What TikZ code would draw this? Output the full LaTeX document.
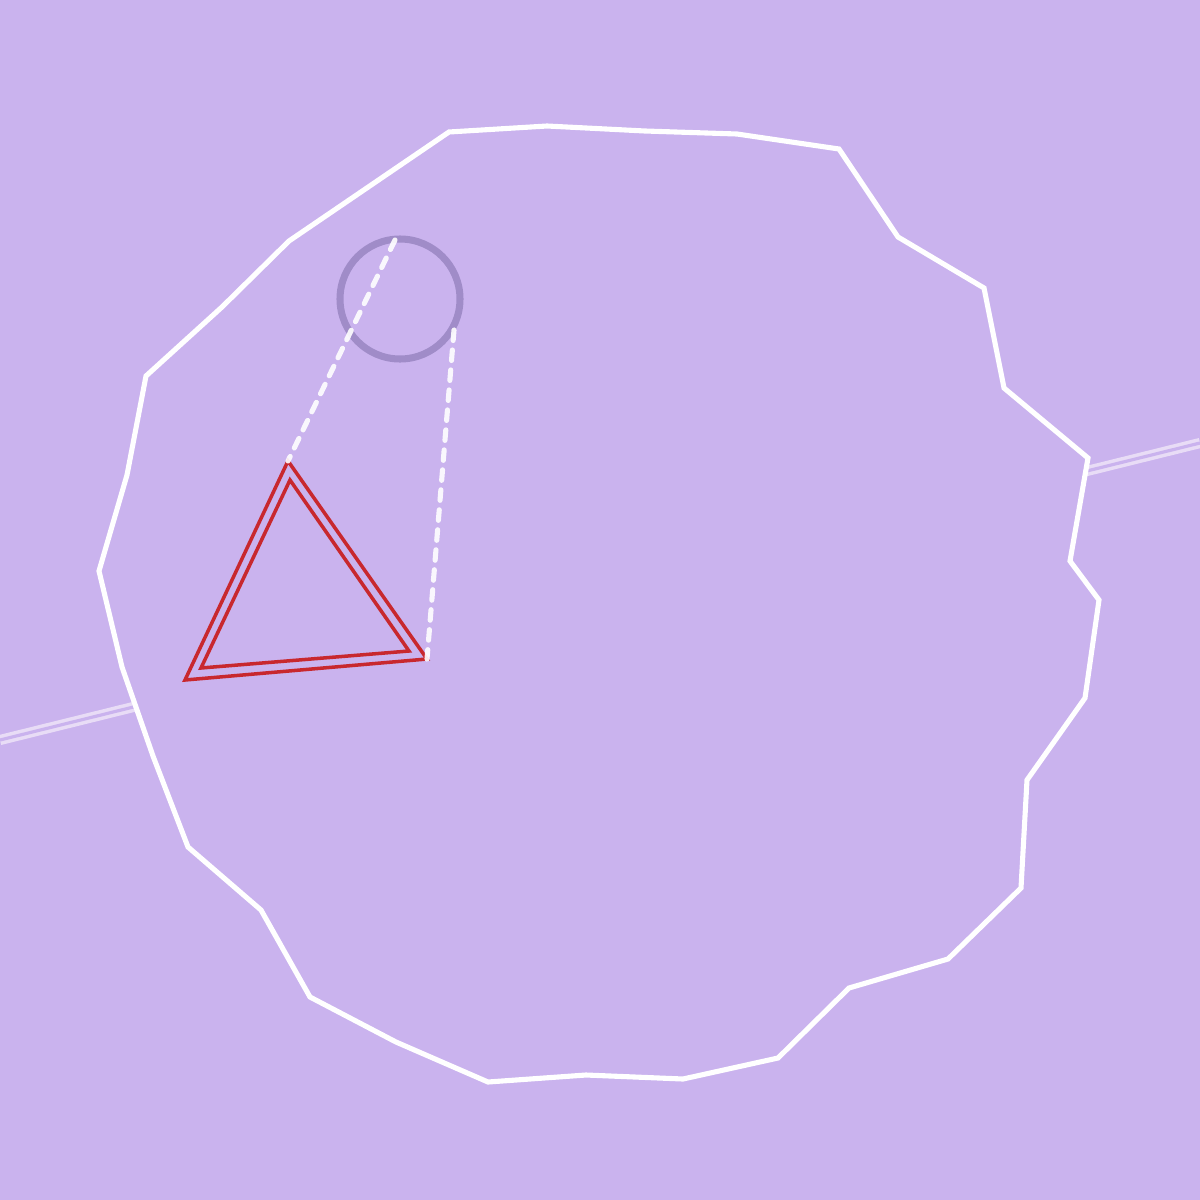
\documentclass[tikz,border=0pt]{standalone}
\begin{document}
\begin{tikzpicture}[x=0.01cm,y=-0.01cm,
  outline/.style={draw=white,line width=1.45pt,line join=miter},
  ring/.style={draw=ringc,line width=2pt},
  tri/.style={draw=tric,line width=1pt,line join=miter},
  guide/.style={draw=white,opacity=0.9,line width=1.45pt,dash pattern=on 3pt off 2.7pt,line cap=round},
  rail/.style={draw=railc,line width=1pt,double=bgc,double distance=0.9pt}]
\definecolor{bgc}{HTML}{CAB3EE}
\definecolor{ringc}{HTML}{A08CC8}
\definecolor{tric}{HTML}{C8282E}
\definecolor{railc}{HTML}{E8DCF6}
\fill[bgc] (0,0) rectangle (1200,1200);
\useasboundingbox (0,0) rectangle (1200,1200);
\coordinate (r1) at (0,740);
\coordinate (r2) at (1200,443);
\draw[rail] (r1) -- (r2);
\draw[outline,fill=bgc] (449,132) -- (547,126) -- (645,131) -- (737,134) -- (839,149) -- (898,237) -- (984,288) -- (1004,388) -- (1088,458) -- (1070,561) -- (1099,600) -- (1085,698) -- (1027,780) -- (1021,888) -- (948,959) -- (849,988) -- (778,1058) -- (683,1079) -- (586,1075) -- (488,1082) -- (396,1042) -- (310,997) -- (261,910) -- (188,847) -- (153,756) -- (122,667) -- (99,571) -- (127,475) -- (146,376) -- (222,307) -- (289,241) -- cycle;
\node[ring,circle,minimum size=120*0.01cm,inner sep=0pt] (c) at (400,299) {};
\coordinate (ta) at (288,461);
\coordinate (tb) at (427,659);
\coordinate (tc) at (185,680);
\coordinate (ca) at (395,240);
\coordinate (cb) at (454,330);
\draw[tri] (ta) -- (tb) -- (tc) -- cycle;
\draw[tri] (290,480) -- (409,651) -- (201,668) -- cycle;
\draw[guide] (ca) -- (ta);
\draw[guide] (cb) -- (tb);
\end{tikzpicture}
\end{document}
